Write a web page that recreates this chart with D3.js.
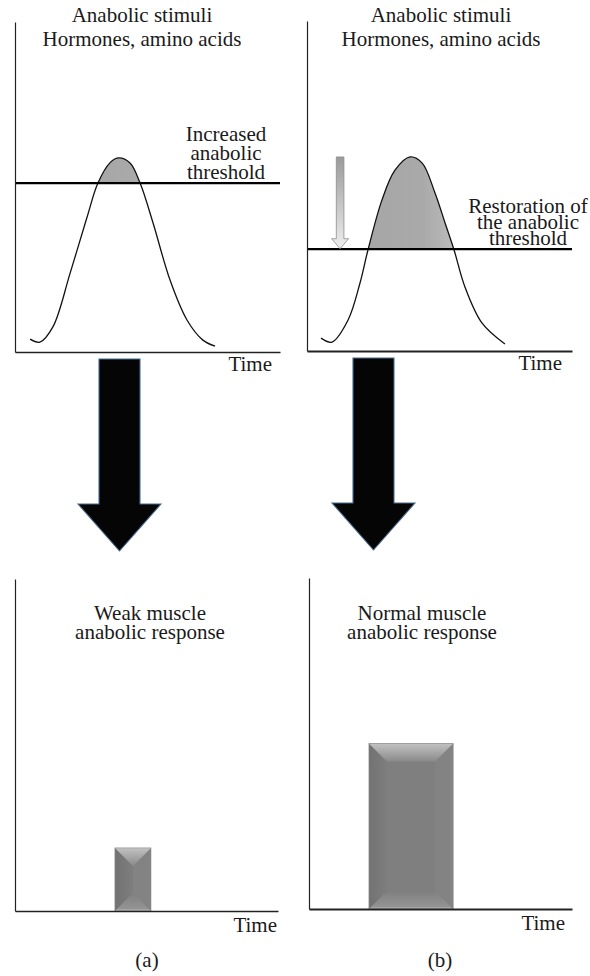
<!DOCTYPE html>
<html>
<head>
<meta charset="utf-8">
<script src="https://cdn.jsdelivr.net/npm/d3@7"></script>
<style>
  html, body { margin: 0; padding: 0; background: #ffffff; }
  svg { display: block; }
</style>
</head>
<body>
<svg id="chart" width="590" height="976"></svg>
<script>
// ---------------- DATA ----------------
// Panel (a) top: anabolic stimuli curve (time, level in % of axis height)
const timeA  = [5.7, 9.4, 14.3, 20.8, 27.2, 31.3, 35.8, 38.9, 43.4, 47.2, 52.1, 58.5, 64.9, 70.9, 75.5];
const levelA = [3.9, 3.0, 7.6, 23.9, 40.9, 51.2, 57.3, 58.8, 57.3, 51.2, 39.1, 21.8, 9.7, 3.6, 1.8];
const thresholdA = 51.2;
// Panel (b) top
const timeB  = [5.3, 9.4, 15.5, 20.0, 23.0, 28.3, 33.2, 38.9, 43.4, 48.3, 52.1, 55.5, 59.6, 66.0, 74.7];
const levelB = [3.9, 2.7, 9.4, 20.6, 30.6, 45.8, 54.8, 58.8, 57.0, 47.9, 38.8, 30.6, 19.4, 8.5, 2.1];
const thresholdB = 30.9;
// Arrow indicating the lowered threshold in (b): time, level from -> to
const shiftArrowTime = 12.5;
const shiftArrowLevel = [58.8, 31.0];
// Bottom panels: muscle anabolic response
const panelLabels = ["(a)", "(b)"];
const responseTitles = [["Weak muscle", "anabolic response"], ["Normal muscle", "anabolic response"]];
const responseValues = [19, 50];
const responseSpan = [[38.0, 51.7], [22.8, 54.8]];
const stimulusTitle = ["Anabolic stimuli", "Hormones, amino acids"];
const thresholdLabels = [["Increased", "anabolic", "threshold"], ["Restoration of", "the anabolic", "threshold"]];
const axisLabel = "Time";

// ---------------- LAYOUT ----------------
const FONT = "'Liberation Serif', 'DejaVu Serif', 'Times New Roman', Times, serif";
const svg = d3.select("#chart");
const defs = svg.append("defs");

function txt(sel) {
  return sel.attr("font-family", FONT).attr("font-size", 21).attr("fill", "#1a1a1a");
}
// multi-line text block: one <text> with a tspan per line
function block(parent, lines, x, y, lead) {
  const t = parent.append("text").attr("x", x).attr("y", y).attr("text-anchor", "middle").call(txt);
  t.selectAll("tspan").data(lines).join("tspan")
    .attr("x", x).attr("dy", (d, k) => k === 0 ? 0 : lead).text(d => d);
  return t;
}

const topPanels = [
  { x: d3.scaleLinear().domain([0, 100]).range([15, 280]),
    y: d3.scaleLinear().domain([0, 100]).range([352, 22]),
    t: timeA, v: levelA, thr: thresholdA, axisW: 1.4,
    titleX: 142, labelX: 226, labelY: 141, lead: 19, timeX: 272, timeY: 371 },
  { x: d3.scaleLinear().domain([0, 100]).range([307, 572]),
    y: d3.scaleLinear().domain([0, 100]).range([351, 21]),
    t: timeB, v: levelB, thr: thresholdB, axisW: 2,
    titleX: 441, labelX: 528, labelY: 213, lead: 16, timeX: 562, timeY: 370 }
];

const bottomPanels = [
  { x: d3.scaleLinear().domain([0, 100]).range([15, 278]),
    y: d3.scaleLinear().domain([0, 100]).range([911, 579]), axisW: 1.4,
    titleX: 150, titleY: 620, timeX: 277, timeY: 932, capX: 147 },
  { x: d3.scaleLinear().domain([0, 100]).range([309, 572]),
    y: d3.scaleLinear().domain([0, 100]).range([909, 578]), axisW: 2,
    titleX: 422, titleY: 620, timeX: 565, timeY: 930, capX: 440 }
];

// gradients
const peakGrad = defs.append("linearGradient").attr("id", "peakGrad")
  .attr("x1", "0").attr("y1", "0").attr("x2", "1").attr("y2", "0");
peakGrad.selectAll("stop").data([
  ["0%", "#a4a4a4"], ["55%", "#a9a9a9"], ["80%", "#c4c4c4"], ["92%", "#b8b8b8"], ["100%", "#a6a6a6"]
]).join("stop").attr("offset", d => d[0]).attr("stop-color", d => d[1]);

const shiftGrad = defs.append("linearGradient").attr("id", "shiftGrad")
  .attr("x1", "0").attr("y1", "0").attr("x2", "0").attr("y2", "1");
shiftGrad.selectAll("stop").data([["0%", "#9a9a9a"], ["100%", "#eeeeee"]])
  .join("stop").attr("offset", d => d[0]).attr("stop-color", d => d[1]);

const topBevel = defs.append("linearGradient").attr("id", "topBevel")
  .attr("x1", "0").attr("y1", "0").attr("x2", "0").attr("y2", "1");
topBevel.selectAll("stop").data([["0%", "#c2c2c2"], ["100%", "#8a8a8a"]])
  .join("stop").attr("offset", d => d[0]).attr("stop-color", d => d[1]);
const botBevel = defs.append("linearGradient").attr("id", "botBevel")
  .attr("x1", "0").attr("y1", "0").attr("x2", "0").attr("y2", "1");
botBevel.selectAll("stop").data([["0%", "#828282"], ["85%", "#939393"], ["100%", "#c4c4c4"]])
  .join("stop").attr("offset", d => d[0]).attr("stop-color", d => d[1]);
const sideGrad = defs.append("linearGradient").attr("id", "sideGrad")
  .attr("x1", "0").attr("y1", "0").attr("x2", "1").attr("y2", "0");
sideGrad.selectAll("stop").data([["0%", "#727272"], ["100%", "#7e7e7e"]])
  .join("stop").attr("offset", d => d[0]).attr("stop-color", d => d[1]);

// ---------------- TOP PANELS ----------------
topPanels.forEach((p, i) => {
  const g = svg.append("g");
  const pts = p.t.map((t, k) => [t, p.v[k]]);
  const curve = d3.curveCatmullRom.alpha(0.5);

  // shaded area above threshold
  const clipId = "clipTop" + i;
  defs.append("clipPath").attr("id", clipId).append("rect")
    .attr("x", p.x.range()[0]).attr("y", 0)
    .attr("width", p.x.range()[1] - p.x.range()[0]).attr("height", p.y(p.thr));
  const area = d3.area().x(d => p.x(d[0])).y0(p.y(0)).y1(d => p.y(d[1])).curve(curve);
  g.append("path").attr("d", area(pts)).attr("fill", "url(#peakGrad)")
    .attr("clip-path", `url(#${clipId})`);

  // curve
  const line = d3.line().x(d => p.x(d[0])).y(d => p.y(d[1])).curve(curve);
  g.append("path").attr("d", line(pts)).attr("fill", "none")
    .attr("stroke", "#111").attr("stroke-width", 1.3);

  // threshold
  g.append("line").attr("x1", p.x(0)).attr("x2", p.x(100))
    .attr("y1", p.y(p.thr)).attr("y2", p.y(p.thr))
    .attr("stroke", "#000").attr("stroke-width", 2.2);

  // axes (no ticks)
  const ax = g.append("g").attr("transform", `translate(0,${p.y(0)})`)
    .call(d3.axisBottom(p.x).tickValues([]).tickSizeOuter(0));
  const ay = g.append("g").attr("transform", `translate(${p.x(0)},0)`)
    .call(d3.axisLeft(p.y).tickValues([]).tickSizeOuter(0));
  ax.select(".domain").attr("stroke", "#222").attr("stroke-width", p.axisW);
  ay.select(".domain").attr("stroke", "#222").attr("stroke-width", 1.2);

  // texts
  block(g, stimulusTitle, p.titleX, 22, 24);
  block(g, thresholdLabels[i], p.labelX, p.labelY, p.lead);
  g.append("text").attr("x", p.timeX).attr("y", p.timeY)
    .attr("text-anchor", "end").text(axisLabel).call(txt);
});

// small gray arrow in (b)
{
  const p = topPanels[1];
  const cx = p.x(shiftArrowTime);
  const y0 = p.y(shiftArrowLevel[0]), y1 = p.y(shiftArrowLevel[1]);
  const sw = 3.8, hw = 8.5, hh = 10;
  const path = d3.path();
  path.moveTo(cx - sw, y0); path.lineTo(cx + sw, y0); path.lineTo(cx + sw, y1 - hh);
  path.lineTo(cx + hw, y1 - hh); path.lineTo(cx, y1); path.lineTo(cx - hw, y1 - hh);
  path.lineTo(cx - sw, y1 - hh); path.closePath();
  svg.append("path").attr("d", path.toString()).attr("fill", "url(#shiftGrad)")
    .attr("stroke", "#8c8c8c").attr("stroke-width", 0.8);
}

// ---------------- BIG BLACK ARROWS ----------------
[119.5, 373.5].forEach((cx, i) => {
  const top = i === 0 ? 359 : 358, headY = i === 0 ? 504 : 503, tip = i === 0 ? 551 : 550;
  const sw = 20.5, hw = 41.5;
  const path = d3.path();
  path.moveTo(cx - sw, top); path.lineTo(cx + sw, top); path.lineTo(cx + sw, headY);
  path.lineTo(cx + hw, headY); path.lineTo(cx, tip); path.lineTo(cx - hw, headY);
  path.lineTo(cx - sw, headY); path.closePath();
  svg.append("path").attr("d", path.toString()).attr("fill", "#050505")
    .attr("stroke", "#4a6a8e").attr("stroke-width", 1.1);
});

// ---------------- BOTTOM PANELS ----------------
bottomPanels.forEach((p, i) => {
  const g = svg.append("g");
  // bar with bevel
  const x0 = p.x(responseSpan[i][0]), x1 = p.x(responseSpan[i][1]);
  const yT = p.y(responseValues[i]), yB = p.y(0);
  const b = Math.min(18, (x1 - x0) / 2);
  const bb = Math.min(16, (x1 - x0) / 2);
  g.append("rect").attr("x", x0).attr("y", yT).attr("width", x1 - x0).attr("height", yB - yT)
    .attr("fill", "#7f7f7f");
  const poly = pts => "M" + pts.map(d => d.join(",")).join("L") + "Z";
  g.append("path").attr("d", poly([[x0, yT], [x0 + b, yT + b], [x0 + b, yB - bb], [x0, yB]]))
    .attr("fill", "url(#sideGrad)");
  g.append("path").attr("d", poly([[x1, yT], [x1 - b, yT + b], [x1 - b, yB - bb], [x1, yB]]))
    .attr("fill", "#838383");
  g.append("path").attr("d", poly([[x0, yT], [x1, yT], [x1 - b, yT + b], [x0 + b, yT + b]]))
    .attr("fill", "url(#topBevel)");
  g.append("path").attr("d", poly([[x0, yB], [x1, yB], [x1 - bb, yB - bb], [x0 + bb, yB - bb]]))
    .attr("fill", "url(#botBevel)");
  g.append("rect").attr("x", x0).attr("y", yT).attr("width", x1 - x0).attr("height", yB - yT)
    .attr("fill", "none").attr("stroke", "#8a8a8a").attr("stroke-width", 0.6);

  // axes
  const ax = g.append("g").attr("transform", `translate(0,${p.y(0)})`)
    .call(d3.axisBottom(p.x).tickValues([]).tickSizeOuter(0));
  const ay = g.append("g").attr("transform", `translate(${p.x(0)},0)`)
    .call(d3.axisLeft(p.y).tickValues([]).tickSizeOuter(0));
  ax.select(".domain").attr("stroke", "#222").attr("stroke-width", p.axisW);
  ay.select(".domain").attr("stroke", "#222").attr("stroke-width", 1.2);

  block(g, responseTitles[i], p.titleX, p.titleY, 19);
  g.append("text").attr("x", p.timeX).attr("y", p.timeY).attr("text-anchor", "end").text(axisLabel).call(txt);
  g.append("text").attr("x", p.capX).attr("y", 967).attr("text-anchor", "middle").text(panelLabels[i]).call(txt);
});
</script>
</body>
</html>
